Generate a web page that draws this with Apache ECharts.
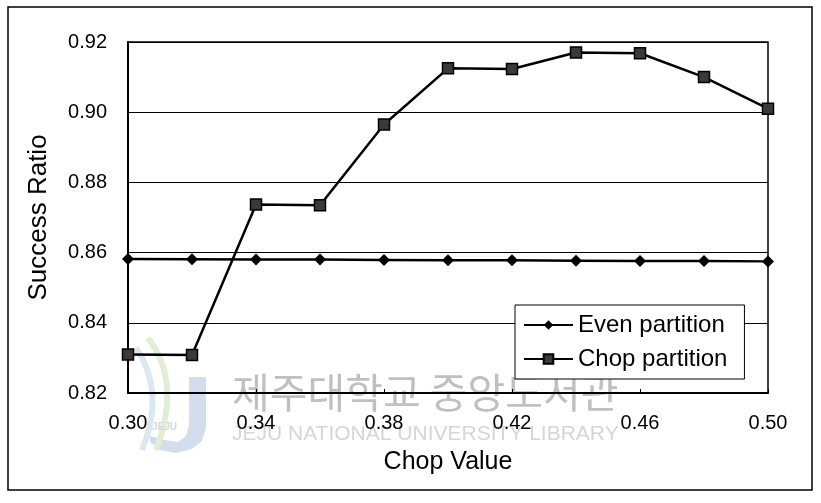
<!DOCTYPE html>
<html>
<head>
<meta charset="utf-8">
<script src="https://cdn.jsdelivr.net/npm/echarts@6/dist/echarts.min.js"></script>
<style>
html,body{margin:0;padding:0;background:#fff;}
#chart{width:821px;height:503px;}
</style>
</head>
<body>
<div id="chart"></div>
<script>
var categories = ['0.30','0.32','0.34','0.36','0.38','0.40','0.42','0.44','0.46','0.48','0.50'];
var evenValues = [0.8582,0.8581,0.8580,0.8580,0.8579,0.8578,0.8578,0.8577,0.8576,0.8576,0.8575];
var chopValues = [0.8310,0.8308,0.8737,0.8735,0.8965,0.9125,0.9123,0.9170,0.9168,0.9100,0.9010];

var font = 'Liberation Sans, Arial, sans-serif';
var chart = echarts.init(document.getElementById('chart'), null, {renderer:'canvas'});
chart.setOption({
  animation:false,
  backgroundColor:'#fff',
  grid:{left:128,right:53,top:42,bottom:110,show:true,borderColor:'#000',borderWidth:1.5,backgroundColor:'transparent'},
  graphic:[
    {type:'rect',shape:{x:8,y:7,width:804,height:483},style:{fill:'none',stroke:'#000',lineWidth:1.5},z:-10},
    {type:'polygon',z:-6,shape:{points:[[189,377],[206,377],[206,428],[202,441],[192,449],[176,453],[160,450],[150,442],[150,436],[164,440],[178,442],[186,436],[189,426]]},style:{fill:'#d3ddee',stroke:'none'}},
    {type:'bezierCurve',z:-6,shape:{x1:148,y1:338,cpx1:182,cpy1:382,x2:156,y2:450},style:{fill:'none',stroke:'#e2edd6',lineWidth:6}},
    {type:'bezierCurve',z:-6,shape:{x1:136,y1:348,cpx1:166,cpy1:392,x2:142,y2:450},style:{fill:'none',stroke:'#dce8f1',lineWidth:6}},
    {type:'text',left:152,top:422,style:{text:'JEJU',fill:'#d8d8d8',font:'bold 10px '+font},z:-5},
    {type:'text',left:232,top:372,style:{text:'제주대학교 중앙도서관',fill:'#c0c0c0',font:'41px "Noto Sans CJK KR"'},z:-5},
    {type:'text',left:232,top:424,style:{text:'JEJU NATIONAL UNIVERSITY LIBRARY',fill:'#d6d6d6',font:'21px '+font},z:-5}
  ],
  legend:{
    orient:'vertical',left:515,top:305,
    backgroundColor:'#fff',borderColor:'#000',borderWidth:1,borderRadius:0,
    padding:[8,17,8,8],itemGap:10,itemWidth:49,itemHeight:12,
    textStyle:{fontFamily:font,fontSize:24,color:'#000'},
    data:['Even partition','Chop partition']
  },
  xAxis:{
    type:'category',data:categories,boundaryGap:false,
    name:'Chop Value',nameLocation:'middle',nameGap:57,
    nameTextStyle:{fontFamily:font,fontSize:25,color:'#000'},
    axisLine:{lineStyle:{color:'#000',width:2}},
    axisTick:{inside:true,length:4,interval:1,lineStyle:{color:'#000'}},
    axisLabel:{interval:1,margin:20,fontFamily:font,fontSize:20,color:'#000'},
    splitLine:{show:false}
  },
  yAxis:{
    type:'value',min:0.82,max:0.92,interval:0.02,
    name:'Success Ratio',nameLocation:'middle',nameGap:76,
    nameTextStyle:{fontFamily:font,fontSize:26,color:'#000'},
    axisLine:{show:true,lineStyle:{color:'#000',width:2}},
    axisTick:{show:false},
    axisLabel:{margin:21,fontFamily:font,fontSize:20,color:'#000',formatter:function(v){return v.toFixed(2);}},
    splitLine:{show:true,lineStyle:{color:'#000',width:1}}
  },
  series:[
    {name:'Even partition',type:'line',data:evenValues,symbol:'diamond',symbolSize:12,
     lineStyle:{color:'#000',width:2.5},itemStyle:{color:'#000'},z:3},
    {name:'Chop partition',type:'line',data:chopValues,symbol:'rect',symbolSize:11,
     lineStyle:{color:'#000',width:2.5},itemStyle:{color:'#3a3a3a',borderColor:'#000',borderWidth:1.5},z:4}
  ]
});
</script>
</body>
</html>
